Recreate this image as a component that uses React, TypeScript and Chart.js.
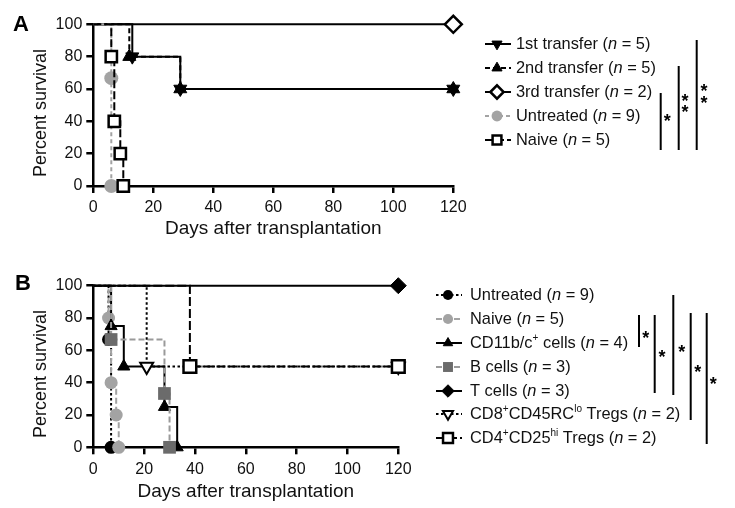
import React, { useEffect, useRef } from 'react';
import { Chart, registerables } from 'chart.js';
import { drawPoint } from 'chart.js/helpers';

Chart.register(...registerables);

const FONT = "Arial, 'Liberation Sans', Helvetica, sans-serif";

// ---------------- tick labels ----------------
const DAY_TICKS = [0, 20, 40, 60, 80, 100, 120];
const SURVIVAL_TICKS = [0, 20, 40, 60, 80, 100];

// ---------------- Panel A data ----------------
const A_LABELS = [
  '1st transfer (_n_ = 5)',
  '2nd transfer (_n_ = 5)',
  '3rd transfer (_n_ = 2)',
  'Untreated (_n_ = 9)',
  'Naive (_n_ = 5)',
];
const A_FIRST_DAYS = [0, 13, 29, 120];
const A_FIRST_SURV = [100, 80, 60, 60];
const A_SECOND_DAYS = [0, 12, 29, 120];
const A_SECOND_SURV = [100, 80, 60, 60];
const A_THIRD_DAYS = [0, 120];
const A_THIRD_SURV = [100, 100];
const A_UNTREATED_DAYS = [0, 6, 6];
const A_UNTREATED_SURV = [100, 66.7, 0];
const A_NAIVE_DAYS = [0, 6, 7, 9, 10];
const A_NAIVE_SURV = [100, 80, 40, 20, 0];

// ---------------- Panel B data ----------------
const B_LABELS = [
  'Untreated (_n_ = 9)',
  'Naive (_n_ = 5)',
  'CD11b/c^{+} cells (_n_ = 4)',
  'B cells (_n_ = 3)',
  'T cells (_n_ = 3)',
  'CD8^{+}CD45RC^{lo} Tregs (_n_ = 2)',
  'CD4^{+}CD25^{hi} Tregs (_n_ = 2)',
];
const B_UNTREATED_DAYS = [0, 6, 7];
const B_UNTREATED_SURV = [100, 66.7, 0];
const B_NAIVE_DAYS = [0, 6, 7, 9, 10];
const B_NAIVE_SURV = [100, 80, 40, 20, 0];
const B_CD11_DAYS = [0, 7, 12, 28, 33];
const B_CD11_SURV = [100, 75, 50, 25, 0];
const B_BCELL_DAYS = [0, 7, 28, 30];
const B_BCELL_SURV = [100, 66.7, 33.3, 0];
const B_TCELL_DAYS = [0, 120];
const B_TCELL_SURV = [100, 100];
const B_CD8_DAYS = [0, 21, 120];
const B_CD8_SURV = [100, 50, 50];
const B_CD4_DAYS = [0, 38, 120];
const B_CD4_SURV = [100, 50, 50];

// significance markers (text)
const A_SIG_TEXT = ['*', '**', '**'];
const B_SIG_TEXT = ['*', '*', '*', '*', '*'];

// ---------------- styles ----------------
const BLACK = '#000';
const GRAY = '#a3a3a3';
const DARKGRAY = '#6b6b6b';

const A_STYLES = [
  { line: BLACK, dash: [], marker: 'triangle', rot: 180, r: 7.5, fill: BLACK, edge: BLACK, bw: 1 },
  { line: BLACK, dash: [5, 3], marker: 'triangle', rot: 0, r: 7.5, fill: BLACK, edge: BLACK, bw: 1 },
  { line: BLACK, dash: [], marker: 'rectRot', rot: 0, r: 8.5, fill: '#fff', edge: BLACK, bw: 2.5 },
  { line: GRAY, dash: [4, 3], marker: 'circle', rot: 0, r: 7, fill: GRAY, edge: GRAY, bw: 0 },
  { line: BLACK, dash: [8, 3], marker: 'rect', rot: 0, r: 8, fill: '#fff', edge: BLACK, bw: 2.5 },
];
const B_STYLES = [
  { line: BLACK, dash: [2.5, 2.5], marker: 'circle', rot: 0, r: 6.5, fill: BLACK, edge: BLACK, bw: 0 },
  { line: GRAY, dash: [6, 3], marker: 'circle', rot: 0, r: 6.5, fill: GRAY, edge: GRAY, bw: 0 },
  { line: BLACK, dash: [], marker: 'triangle', rot: 0, r: 7, fill: BLACK, edge: BLACK, bw: 1 },
  { line: '#9a9a9a', dash: [6, 3], marker: 'rect', rot: 0, r: 9, fill: DARKGRAY, edge: DARKGRAY, bw: 0 },
  { line: BLACK, dash: [], marker: 'rectRot', rot: 0, r: 8, fill: BLACK, edge: BLACK, bw: 1 },
  { line: BLACK, dash: [2.5, 2.5], marker: 'triangle', rot: 180, r: 7.5, fill: '#fff', edge: BLACK, bw: 2 },
  { line: BLACK, dash: [9, 3], marker: 'rect', rot: 0, r: 9, fill: '#fff', edge: BLACK, bw: 2.5 },
];

const PANEL_A = {
  letter: 'A',
  offsetY: 0,
  labels: A_LABELS,
  days: [A_FIRST_DAYS, A_SECOND_DAYS, A_THIRD_DAYS, A_UNTREATED_DAYS, A_NAIVE_DAYS],
  surv: [A_FIRST_SURV, A_SECOND_SURV, A_THIRD_SURV, A_UNTREATED_SURV, A_NAIVE_SURV],
  styles: A_STYLES,
  layout: {
    top: 24.3, right: 453.3, yAxisW: 93.3, xAxisH: 68, xTickPad: 5, xTitlePad: 13.5,
    letterX: 13, letterY: 31, yTitleX: 40.7, yTitleY: 113,
    legendRows: [44, 68, 92, 116, 140], legX1: 485, legX2: 511, legMX: 497, legTX: 516,
    bars: [
      { x: 660.7, y1: 93, y2: 150, sx: 667.3, sy: [116.7] },
      { x: 678.7, y1: 66, y2: 150, sx: 685, sy: [96.7, 108.3] },
      { x: 696.7, y1: 40, y2: 150, sx: 704, sy: [87.3, 98.7] },
    ],
    sig: A_SIG_TEXT,
  },
};

const PANEL_B = {
  letter: 'B',
  offsetY: 254,
  labels: B_LABELS,
  days: [B_UNTREATED_DAYS, B_NAIVE_DAYS, B_CD11_DAYS, B_BCELL_DAYS, B_TCELL_DAYS, B_CD8_DAYS, B_CD4_DAYS],
  surv: [B_UNTREATED_SURV, B_NAIVE_SURV, B_CD11_SURV, B_BCELL_SURV, B_TCELL_SURV, B_CD8_SURV, B_CD4_SURV],
  styles: B_STYLES,
  layout: {
    top: 31.7, right: 398.3, yAxisW: 93.3, xAxisH: 60.7, xTickPad: 6, xTitlePad: 4.5,
    letterX: 15, letterY: 36, yTitleX: 40.7, yTitleY: 120,
    legendRows: [41, 65, 89, 113, 137, 160, 184], legX1: 436, legX2: 462, legMX: 448, legTX: 470,
    bars: [
      { x: 639, y1: 61, y2: 93, sx: 645.7, sy: [80] },
      { x: 654.7, y1: 61, y2: 139, sx: 662, sy: [98.7] },
      { x: 673.3, y1: 41, y2: 141, sx: 681.7, sy: [94.3] },
      { x: 690.7, y1: 59, y2: 166, sx: 697.7, sy: [113.7] },
      { x: 706.7, y1: 59, y2: 190, sx: 713.3, sy: [126] },
    ],
    sig: B_SIG_TEXT,
  },
};

function drawRich(ctx, text, x, y, size) {
  const parts = text.split(/(\^\{[^}]*\}|_[^_]+_)/).filter((p) => p.length > 0);
  let cx = x;
  for (const p of parts) {
    let t = p;
    let font = `${size}px ${FONT}`;
    let dy = 0;
    if (p.startsWith('^{')) {
      t = p.slice(2, -1);
      font = `${Math.round(size * 0.64)}px ${FONT}`;
      dy = -5;
    } else if (p.length > 2 && p.startsWith('_') && p.endsWith('_')) {
      t = p.slice(1, -1);
      font = `italic ${size}px ${FONT}`;
    }
    ctx.font = font;
    ctx.fillText(t, cx, y + dy);
    cx += ctx.measureText(t).width;
  }
}

function makeDecorPlugin(panel) {
  const L = panel.layout;
  return {
    id: 'panelDecor' + panel.letter,
    afterDraw(chart) {
      const ctx = chart.ctx;
      ctx.save();
      // panel letter
      ctx.fillStyle = '#000';
      ctx.font = `bold 22px ${FONT}`;
      ctx.textAlign = 'left';
      ctx.textBaseline = 'alphabetic';
      ctx.fillText(panel.letter, L.letterX, L.letterY);
      // y title
      ctx.save();
      ctx.translate(L.yTitleX, L.yTitleY);
      ctx.rotate(-Math.PI / 2);
      ctx.font = `18px ${FONT}`;
      ctx.fillStyle = '#111';
      ctx.textAlign = 'center';
      ctx.textBaseline = 'middle';
      ctx.fillText('Percent survival', 0, 0);
      ctx.restore();
      // legend
      panel.labels.forEach((label, i) => {
        const s = panel.styles[i];
        const y = L.legendRows[i];
        ctx.save();
        ctx.strokeStyle = s.line;
        ctx.lineWidth = 2;
        ctx.setLineDash(s.dash);
        ctx.beginPath();
        ctx.moveTo(L.legX1, y);
        ctx.lineTo(L.legX2, y);
        ctx.stroke();
        ctx.setLineDash([]);
        ctx.fillStyle = s.fill;
        ctx.strokeStyle = s.edge;
        ctx.lineWidth = s.bw;
        drawPoint(ctx, { pointStyle: s.marker, rotation: s.rot, radius: s.r * 0.78, borderWidth: s.bw }, L.legMX, y);
        ctx.restore();
        ctx.fillStyle = '#111';
        ctx.textAlign = 'left';
        ctx.textBaseline = 'middle';
        drawRich(ctx, label, L.legTX, y, 16.4);
      });
      // significance bars
      ctx.strokeStyle = '#000';
      ctx.lineWidth = 2;
      ctx.setLineDash([]);
      L.bars.forEach((b, i) => {
        ctx.beginPath();
        ctx.moveTo(b.x, b.y1);
        ctx.lineTo(b.x, b.y2);
        ctx.stroke();
        ctx.fillStyle = '#000';
        ctx.font = `bold 18px ${FONT}`;
        ctx.textAlign = 'center';
        ctx.textBaseline = 'alphabetic';
        const stars = L.sig[i].split('');
        stars.forEach((st, k) => {
          ctx.fillText(st, b.sx, b.sy[k] + 10);
        });
      });
      ctx.restore();
    },
  };
}

function buildConfig(panel) {
  const L = panel.layout;
  const datasets = panel.labels.map((label, i) => {
    const s = panel.styles[i];
    return {
      label: label.replace(/[_^{}]/g, ''),
      data: panel.days[i].map((d, j) => ({ x: d, y: panel.surv[i][j] })),
      borderColor: s.line,
      borderWidth: 2,
      borderDash: s.dash,
      stepped: 'before',
      fill: false,
      tension: 0,
      pointStyle: s.marker,
      pointRotation: s.rot,
      pointRadius: (c) => (c.dataIndex === 0 ? 0 : s.r),
      pointHoverRadius: (c) => (c.dataIndex === 0 ? 0 : s.r),
      pointBackgroundColor: s.fill,
      pointBorderColor: s.edge,
      pointBorderWidth: s.bw,
      clip: false,
      order: -i,
    };
  });
  const gridOpts = {
    drawOnChartArea: false,
    drawTicks: true,
    tickLength: 7,
    tickWidth: 2.5,
    tickColor: '#000',
    color: '#000',
    lineWidth: 2.5,
  };
  const borderOpts = { display: true, color: '#000', width: 2.5 };
  return {
    type: 'line',
    data: { datasets },
    options: {
      animation: false,
      responsive: false,
      maintainAspectRatio: false,
      events: [],
      layout: { padding: { left: 0, top: L.top, right: 735 - L.right, bottom: 0 } },
      plugins: { legend: { display: false }, tooltip: { enabled: false }, title: { display: false } },
      scales: {
        x: {
          type: 'linear',
          min: 0,
          max: 120,
          afterBuildTicks: (s) => {
            s.ticks = DAY_TICKS.map((v) => ({ value: v }));
          },
          afterFit: (s) => {
            s.height = L.xAxisH;
          },
          ticks: { color: '#111', font: { family: FONT, size: 16 }, padding: L.xTickPad, maxRotation: 0, autoSkip: false },
          grid: gridOpts,
          border: borderOpts,
          title: {
            display: true,
            text: 'Days after transplantation',
            color: '#111',
            font: { family: FONT, size: 19 },
            padding: { top: 0, bottom: L.xTitlePad },
          },
        },
        y: {
          type: 'linear',
          min: 0,
          max: 100,
          afterBuildTicks: (s) => {
            s.ticks = SURVIVAL_TICKS.map((v) => ({ value: v }));
          },
          afterFit: (s) => {
            s.width = L.yAxisW;
          },
          ticks: { color: '#111', font: { family: FONT, size: 16 }, padding: 4, autoSkip: false },
          grid: gridOpts,
          border: borderOpts,
          title: { display: false },
        },
      },
    },
    plugins: [makeDecorPlugin(panel)],
  };
}

function SurvivalPanel({ panel }) {
  const ref = useRef(null);
  useEffect(() => {
    const chart = new Chart(ref.current, buildConfig(panel) as any);
    return () => chart.destroy();
  }, [panel]);
  return (
    <canvas
      ref={ref}
      width={735}
      height={254}
      style={{ position: 'absolute', left: 0, top: panel.offsetY, width: 735, height: 254, display: 'block' }}
    />
  );
}

export default function App() {
  return (
    <div style={{ position: 'fixed', left: 0, top: 0, width: 735, height: 508, background: '#fff', overflow: 'hidden' }}>
      <SurvivalPanel panel={PANEL_A} />
      <SurvivalPanel panel={PANEL_B} />
    </div>
  );
}
